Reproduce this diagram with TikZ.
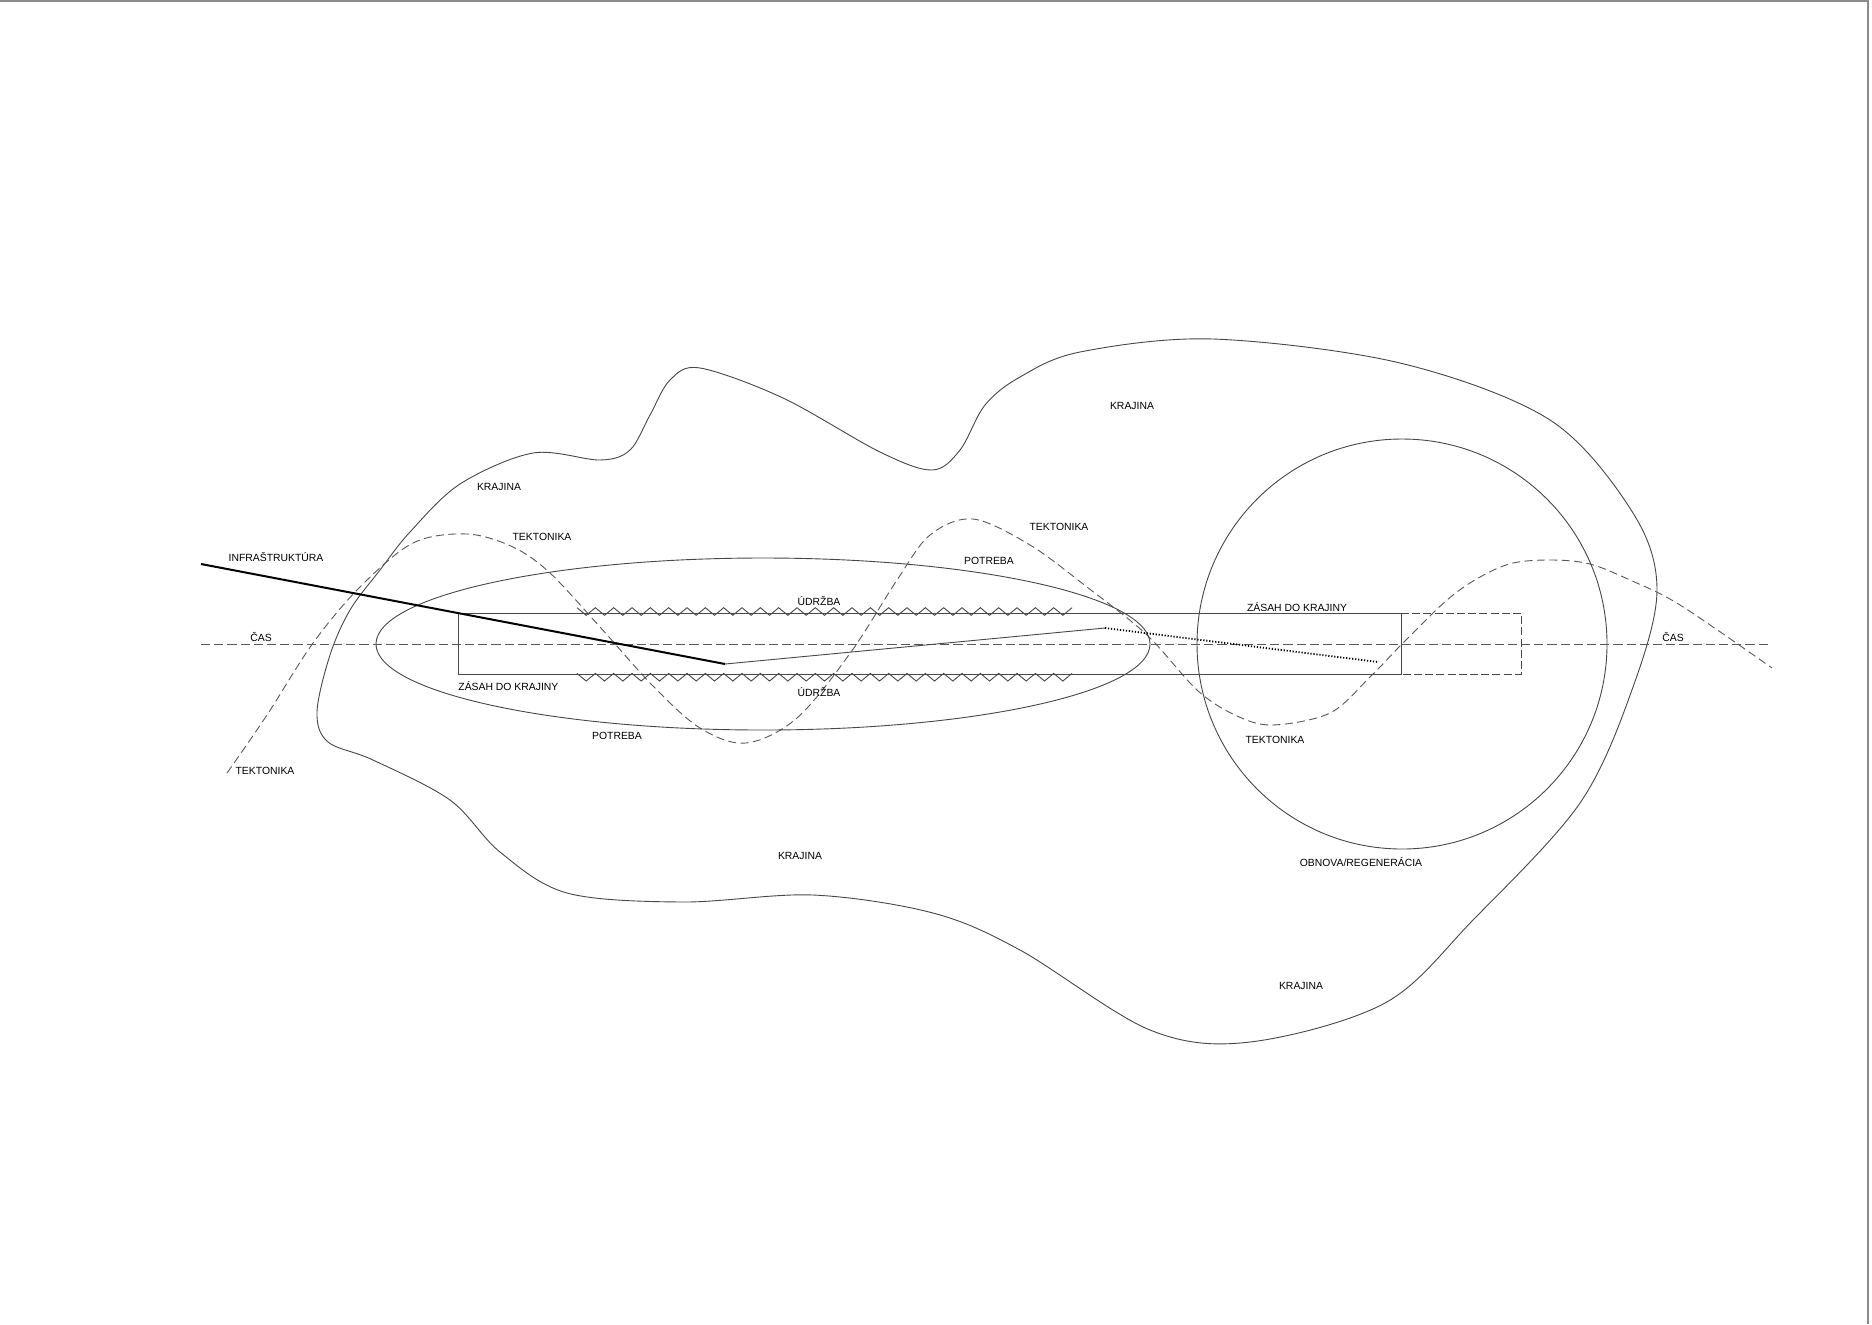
\documentclass[tikz,border=0pt]{standalone}
\usepackage{fontspec}
\setmainfont{Liberation Sans}
\begin{document}
\begin{tikzpicture}[x=0.5pt,y=-0.5pt,
  thinline/.style={draw=black!72, line width=0.45pt},
  tekline/.style={draw=black!65, line width=0.45pt, dash pattern=on 4pt off 2.2pt},
  casline/.style={draw=black!65, line width=0.45pt, dash pattern=on 4.6pt off 2pt},
  infraline/.style={draw=black, line width=1pt},
  dotline/.style={draw=black, line width=0.9pt, dash pattern=on 0.6pt off 0.9pt},
  lbl/.style={font=\fontsize{5.2}{6}\selectfont, inner sep=0pt, text=black}]
\useasboundingbox (0,0) rectangle (1872,1324);
\fill[white] (0,0) rectangle (1872,1324);
% page frame
\draw[black!45, line width=0.6pt] (0,1) -- (1868,1) -- (1868,1324);

% KRAJINA outline
\draw[thinline] plot[smooth cycle, tension=0.55] coordinates {
 (317,712) (330,655) (350,610) (380,570) (410,532) (460,484) (533,453)
 (600,460) (630,450) (650,415) (670,380) (700,368) (783,398) (880,452)
 (932,470) (960,450) (985,405) (1020,377) (1080,352) (1213,339) (1400,363)
 (1550,420) (1633,513) (1657,590) (1633,687) (1580,803) (1473,920) (1385,1003)
 (1250,1042) (1150,1030) (1020,950) (933,913) (813,895) (683,902) (567,893)
 (500,852) (450,800) (373,760) (328,742)};

% TEKTONIKA wave
\draw[tekline] plot[smooth, tension=0.55] coordinates {
 (227,773) (267,715) (313,643) (360,587) (413,543) (467,534) (513,547)
 (550,573) (600,627) (653,686) (700,728) (746,743) (797,718) (851,652)
 (897,580) (930,535) (973,519) (1030,545) (1087,587) (1147,635) (1197,690)
 (1235,715) (1272,725) (1330,713) (1370,677) (1402,644) (1447,600) (1480,577)
 (1513,563) (1553,560) (1590,564) (1630,580) (1680,605) (1772,668)};

% POTREBA ellipse
\draw[thinline] (763,644) ellipse [x radius=193.5pt, y radius=43pt];
% OBNOVA circle
\draw[thinline] (1402,644) circle [radius=102.5pt];

% CAS axis
\coordinate (casL) at (201,644);
\coordinate (casR) at (1768,644);
\draw[casline] (casL) -- (casR);

% ZASAH rectangle
\coordinate (rTL) at (458,613);
\coordinate (rBR) at (1401,674);
\draw[thinline] (rTL) rectangle (rBR);
\draw[thinline, dash pattern=on 4pt off 1.6pt] (1401,613) -- (1521,613) -- (1521,674) -- (1401,674);

% UDRZBA zigzags
\draw[thinline] (577,607.7) \foreach \i in {1,...,54} { -- ({577+\i*9.167},{ifthenelse(mod(\i,2)==0,607.7,615.3)}) };
\draw[thinline] (577,673.4) \foreach \i in {1,...,54} { -- ({577+\i*9.167},{ifthenelse(mod(\i,2)==0,673.4,681)}) };

% INFRASTRUKTURA
\coordinate (inA) at (201,564);
\coordinate (inB) at (725,664);
\coordinate (inC) at (1105,628);
\coordinate (inD) at (1378,662);
\draw[infraline] (inA) -- (inB);
\draw[thinline] (inB) -- (inC);
\draw[dotline] (inC) -- (inD);

% labels
\node[lbl] (tInfra) at (276,557) {INFRAŠTRUKTÚRA};
\node[lbl] (tCasL) at (261,637) {ČAS};
\node[lbl] (tCasR) at (1673,637) {ČAS};
\node[lbl] (tKraj1) at (499,487) {KRAJINA};
\node[lbl] (tKraj2) at (1132,406) {KRAJINA};
\node[lbl] (tKraj3) at (800,856) {KRAJINA};
\node[lbl] (tKraj4) at (1301,986) {KRAJINA};
\node[lbl] (tTek1) at (542,537) {TEKTONIKA};
\node[lbl] (tTek2) at (265,771) {TEKTONIKA};
\node[lbl] (tTek3) at (1059,527) {TEKTONIKA};
\node[lbl] (tTek4) at (1275,740) {TEKTONIKA};
\node[lbl] (tPot1) at (989,561) {POTREBA};
\node[lbl] (tPot2) at (617,736) {POTREBA};
\node[lbl] (tUdr1) at (819,601) {ÚDRŽBA};
\node[lbl] (tUdr2) at (819,692) {ÚDRŽBA};
\node[lbl, anchor=west] (tZas1) at (458,686) {ZÁSAH DO KRAJINY};
\node[lbl] (tZas2) at (1297,607) {ZÁSAH DO KRAJINY};
\node[lbl] (tObn) at (1361,862) {OBNOVA/REGENERÁCIA};
\end{tikzpicture}
\end{document}
